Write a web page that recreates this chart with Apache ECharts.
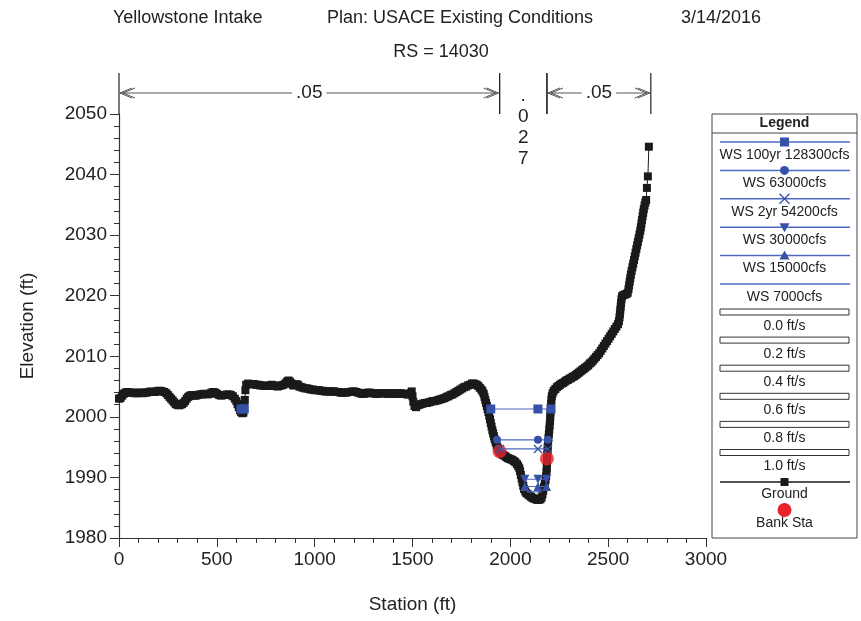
<!DOCTYPE html>
<html><head><meta charset="utf-8">
<script src="https://cdn.jsdelivr.net/npm/echarts@6/dist/echarts.min.js"></script>
<style>html,body{margin:0;padding:0;background:#fff}#c{width:861px;height:621px}</style>
</head><body><div id="c"></div>
<script>
// ---------- data ----------
const titleParts = ['Yellowstone Intake', 'Plan: USACE Existing Conditions', '3/14/2016'];
const subTitle = 'RS = 14030';
const xAxisName = 'Station (ft)';
const yAxisName = 'Elevation (ft)';

const groundStation = [0,8,16,24,32,42,52,62,72,82,92,102,112,122,132,142,152,162,172,182,192,202,212,222,232,242,250,258,266,274,282,290,298,306,314,322,330,338,346,354,362,372,382,392,402,412,422,432,442,452,462,472,482,492,502,512,522,532,542,552,562,572,582,592,600,606,612,618,624,630,636,640,643,646,650,660,670,680,690,700,710,720,730,740,750,760,770,780,790,800,810,820,830,840,850,858,866,874,882,890,898,906,914,922,932,942,952,962,972,982,992,1002,1012,1022,1032,1042,1052,1062,1072,1082,1092,1102,1112,1122,1132,1142,1152,1162,1172,1182,1192,1202,1212,1222,1232,1242,1252,1262,1272,1282,1292,1302,1312,1322,1332,1342,1352,1362,1372,1382,1392,1402,1412,1422,1432,1442,1452,1462,1472,1482,1490,1496,1500,1504,1510,1518,1526,1534,1544,1554,1564,1574,1584,1594,1604,1614,1624,1634,1644,1654,1664,1674,1684,1694,1704,1714,1724,1734,1744,1754,1764,1774,1784,1794,1804,1812,1820,1828,1836,1844,1852,1858,1864,1868,1872,1876,1880,1884,1888,1892,1896,1900,1904,1908,1912,1916,1920,1925,1930,1936,1942,1948,1955,1962,1970,1978,1986,1994,2002,2010,2018,2026,2034,2040,2046,2050,2054,2058,2062,2066,2070,2076,2082,2090,2098,2106,2114,2122,2130,2138,2146,2154,2160,2164,2168,2172,2176,2180,2183,2185,2186,2187,2188,2189,2190,2191,2193,2195,2197,2199,2201,2203,2204,2205,2207,2208,2210,2212,2216,2222,2230,2238,2246,2254,2262,2270,2278,2286,2294,2302,2310,2318,2326,2334,2342,2350,2358,2366,2374,2382,2390,2398,2406,2414,2422,2430,2438,2446,2454,2462,2470,2478,2486,2494,2502,2510,2518,2526,2534,2542,2550,2555,2558,2560,2562,2564,2566,2568,2571,2578,2586,2594,2600,2604,2607,2610,2613,2616,2620,2624,2628,2632,2636,2640,2644,2648,2652,2656,2660,2664,2667,2670,2673,2676,2679,2682,2686,2690,2694,2698,2703,2708,2718];
const groundElev = [2003.0,2003.1,2003.5,2003.8,2004.0,2004.1,2004.0,2004.0,2004.0,2003.9,2003.9,2004.0,2004.0,2003.9,2004.0,2004.0,2004.1,2004.2,2004.1,2004.1,2004.2,2004.3,2004.3,2004.2,2004.1,2003.9,2003.6,2003.3,2003.0,2002.7,2002.4,2002.1,2002.0,2001.9,2002.0,2002.1,2002.3,2002.6,2003.0,2003.3,2003.5,2003.6,2003.5,2003.5,2003.6,2003.7,2003.7,2003.8,2003.8,2003.7,2003.8,2004.0,2004.1,2004.0,2003.8,2003.6,2003.5,2003.6,2003.6,2003.7,2003.7,2003.6,2003.4,2003.0,2002.6,2002.1,2001.6,2001.1,2000.8,2000.6,2000.7,2001.5,2002.8,2004.4,2005.3,2005.5,2005.4,2005.4,2005.4,2005.3,2005.3,2005.2,2005.2,2005.1,2005.1,2005.1,2005.2,2005.3,2005.2,2005.1,2005.0,2005.1,2005.2,2005.3,2005.5,2005.8,2006.0,2005.8,2005.5,2005.2,2005.2,2005.4,2005.3,2005.0,2004.9,2004.8,2004.7,2004.7,2004.6,2004.5,2004.5,2004.4,2004.4,2004.4,2004.3,2004.3,2004.2,2004.2,2004.2,2004.2,2004.2,2004.2,2004.1,2004.1,2004.0,2004.0,2004.0,2004.0,2004.1,2004.1,2004.2,2004.2,2004.1,2004.0,2003.9,2003.8,2003.8,2003.9,2004.0,2004.0,2003.9,2003.9,2003.8,2003.8,2003.9,2003.9,2003.9,2003.9,2003.8,2003.8,2003.9,2003.9,2003.8,2003.8,2003.9,2003.9,2003.8,2003.8,2003.7,2003.7,2003.9,2004.2,2003.4,2002.5,2001.8,2001.6,2001.9,2002.0,2002.1,2002.2,2002.3,2002.3,2002.4,2002.5,2002.6,2002.6,2002.7,2002.8,2002.9,2003.0,2003.1,2003.3,2003.4,2003.6,2003.7,2003.9,2004.1,2004.3,2004.5,2004.7,2004.9,2005.0,2005.2,2005.3,2005.5,2005.5,2005.4,2005.3,2005.1,2004.8,2004.5,2004.2,2003.8,2003.3,2002.8,2002.3,2001.8,2001.3,2000.8,2000.2,1999.6,1999.0,1998.4,1997.8,1997.3,1996.8,1996.3,1995.8,1995.3,1994.9,1994.5,1994.2,1993.9,1993.7,1993.6,1993.4,1993.2,1993.1,1993.0,1992.9,1992.7,1992.5,1992.2,1991.9,1991.5,1991.0,1990.4,1989.8,1989.2,1988.6,1988.1,1987.7,1987.4,1987.2,1987.0,1986.8,1986.6,1986.5,1986.4,1986.3,1986.3,1986.4,1986.7,1987.2,1987.8,1988.4,1989.0,1989.6,1990.2,1990.9,1991.6,1992.3,1993.0,1993.7,1994.4,1995.1,1995.8,1996.5,1997.2,1997.9,1998.6,1999.3,2000.0,2000.7,2001.4,2002.1,2002.8,2003.4,2003.9,2004.3,2004.6,2004.9,2005.1,2005.3,2005.5,2005.6,2005.8,2006.0,2006.1,2006.3,2006.4,2006.6,2006.7,2006.9,2007.1,2007.3,2007.5,2007.7,2007.9,2008.1,2008.3,2008.5,2008.8,2009.0,2009.3,2009.6,2009.9,2010.2,2010.5,2010.9,2011.3,2011.7,2012.1,2012.5,2012.9,2013.3,2013.7,2014.1,2014.5,2014.9,2015.3,2015.8,2016.4,2017.0,2017.6,2018.2,2018.8,2019.4,2019.9,2020.1,2020.2,2020.3,2020.5,2021.1,2021.7,2022.3,2022.9,2023.5,2024.1,2024.7,2025.3,2025.9,2026.5,2027.1,2027.7,2028.3,2028.9,2029.5,2030.1,2030.7,2031.3,2031.9,2032.5,2033.1,2033.7,2034.3,2034.9,2035.4,2035.8,2037.8,2039.7,2044.6];

const bankStation = [1945, 2187];
const bankElev = [1994.3, 1993.1];

const wsNames = ['WS 100yr 128300cfs', 'WS 63000cfs', 'WS 2yr 54200cfs', 'WS 30000cfs', 'WS 15000cfs', 'WS 7000cfs'];
const wsElev = [2001.3, 1996.2, 1994.7, 1989.7, 1988.5, 1987.6];
const wsStations = [[1900, 2141, 2208], [1932, 2141, 2192], [1947, 2141, 2192], [2074, 2141, 2185], [2074, 2141, 2185], [2085, 2160]];
const wsPoolStations = [[624, 640], [], [], [], [], []];

const nBounds = [0, 1945, 2187, 2718];
const nValues = ['.05', '.027', '.05'];

const velocityLabels = ['0.0 ft/s', '0.2 ft/s', '0.4 ft/s', '0.6 ft/s', '0.8 ft/s', '1.0 ft/s'];
const groundLabel = 'Ground';
const bankLabel = 'Bank Sta';

// ---------- styles ----------
const FONT = 'Liberation Sans, Arial, sans-serif';
const BLUE = '#3652a8';
const BLUE_LINE = '#4f69c0';
const RED = '#e8232b';
const BLACK = '#1a1a1a';
const wsSymbols = ['rect', 'circle', 'path://M0,0L10,10M10,0L0,10', 'triangle', 'triangle', 'none'];
const wsRotate = [0, 0, 0, 180, 0, 0];
const wsSize = [9, 8, 8, 9, 9, 0];

const chart = echarts.init(document.getElementById('c'), null, {renderer: 'canvas'});

const series = [];
series.push({
  name: groundLabel, type: 'line', z: 2,
  data: groundStation.map((s, i) => [s, groundElev[i]]),
  symbol: 'rect', symbolSize: 8, showAllSymbol: true,
  itemStyle: {color: BLACK},
  lineStyle: {color: BLACK, width: 1},
  animation: false
});
series.push({
  name: bankLabel, type: 'scatter', z: 3,
  data: bankStation.map((s, i) => [s, bankElev[i]]),
  symbol: 'circle', symbolSize: 14,
  itemStyle: {color: RED},
  animation: false
});
wsNames.forEach((n, i) => {
  const isCross = i === 2;
  const mk = (arr) => ({
    name: n, type: 'line', z: 4,
    data: arr.map(s => [s, wsElev[i]]),
    symbol: wsSymbols[i], symbolSize: wsSize[i], symbolRotate: wsRotate[i], showAllSymbol: true,
    itemStyle: isCross ? {color: 'rgba(0,0,0,0)', borderColor: BLUE, borderWidth: 1.3} : {color: BLUE},
    lineStyle: {color: BLUE_LINE, width: 1.2},
    animation: false
  });
  series.push(mk(wsStations[i]));
  if (wsPoolStations[i].length) series.push(mk(wsPoolStations[i]));
});

// Manning's n annotation, positioned through the axes' scales
series.push({
  type: 'custom', z: 5, clip: false, animation: false,
  data: nValues.map((v, i) => [nBounds[i], nBounds[i + 1], i]),
  renderItem: function (params, api) {
    const yTop = 2050;
    const a = api.coord([api.value(0), yTop]);
    const b = api.coord([api.value(1), yTop]);
    const label = nValues[api.value(2)];
    const top = a[1] - 41, bot = a[1];
    const children = [];
    const ls = {stroke: '#222', lineWidth: 1.2};
    children.push({type: 'line', shape: {x1: a[0], y1: top, x2: a[0], y2: bot}, style: ls});
    children.push({type: 'line', shape: {x1: b[0], y1: top, x2: b[0], y2: bot}, style: ls});
    const w = b[0] - a[0];
    if (w > 60) {
      const yy = a[1] - 21;
      const as = {stroke: '#555', lineWidth: 1, fill: null};
      children.push({type: 'line', shape: {x1: a[0] + 1, y1: yy, x2: b[0] - 1, y2: yy}, style: as});
      children.push({type: 'polyline', shape: {points: [[a[0] + 13, yy - 5], [a[0] + 1, yy], [a[0] + 13, yy + 5]]}, style: as});
      children.push({type: 'polyline', shape: {points: [[a[0] + 16, yy - 5], [a[0] + 4, yy], [a[0] + 16, yy + 5]]}, style: as});
      children.push({type: 'polyline', shape: {points: [[b[0] - 13, yy - 5], [b[0] - 1, yy], [b[0] - 13, yy + 5]]}, style: as});
      children.push({type: 'polyline', shape: {points: [[b[0] - 16, yy - 5], [b[0] - 4, yy], [b[0] - 16, yy + 5]]}, style: as});
      children.push({type: 'text', x: (a[0] + b[0]) / 2, y: yy, style: {text: label, font: '19px ' + FONT, fill: '#222', align: 'center', verticalAlign: 'middle', backgroundColor: '#fff', padding: [0, 4]}});
    } else {
      children.push({type: 'text', x: (a[0] + b[0]) / 2, y: top + 12, style: {text: label.split('').join('\n'), font: '19px ' + FONT, fill: '#222', align: 'center', verticalAlign: 'top', lineHeight: 21}});
    }
    return {type: 'group', children: children};
  }
});

// ---------- legend (graphic) ----------
const g = [];
const LX = 712, LW = 145, LT = 114, LB = 538, CX = LX + LW / 2;
g.push({type: 'rect', shape: {x: LX, y: LT, width: LW, height: LB - LT}, style: {fill: '#fff', stroke: '#444', lineWidth: 1}, z: 10});
g.push({type: 'text', x: CX, y: 123, style: {text: 'Legend', font: 'bold 14px ' + FONT, fill: '#222', align: 'center', verticalAlign: 'middle'}, z: 11});
g.push({type: 'line', shape: {x1: LX, y1: 133, x2: LX + LW, y2: 133}, style: {stroke: '#444', lineWidth: 1}, z: 11});
wsNames.forEach((n, i) => {
  const y = 142 + i * 28.4;
  g.push({type: 'line', shape: {x1: 720, y1: y, x2: 850, y2: y}, style: {stroke: BLUE_LINE, lineWidth: 1.5}, z: 11});
  if (wsSymbols[i] !== 'none') {
    const path = wsSymbols[i];
    let el;
    if (path === 'rect') el = {type: 'rect', shape: {x: CX - 4.5, y: y - 4.5, width: 9, height: 9}, style: {fill: BLUE}};
    else if (path === 'circle') el = {type: 'circle', shape: {cx: CX, cy: y, r: 4.5}, style: {fill: BLUE}};
    else if (i === 2) el = {type: 'polyline', shape: {points: [[CX - 5, y - 5], [CX, y], [CX + 5, y - 5]]}, style: {stroke: BLUE, fill: null, lineWidth: 1.3}};
    else if (i === 3) el = {type: 'polygon', shape: {points: [[CX - 5, y - 4], [CX + 5, y - 4], [CX, y + 5]]}, style: {fill: BLUE}};
    else el = {type: 'polygon', shape: {points: [[CX - 5, y + 4], [CX + 5, y + 4], [CX, y - 5]]}, style: {fill: BLUE}};
    el.z = 12; g.push(el);
    if (i === 2) g.push({type: 'polyline', shape: {points: [[CX - 5, y + 5], [CX, y], [CX + 5, y + 5]]}, style: {stroke: BLUE, fill: null, lineWidth: 1.3}, z: 12});
  }
  g.push({type: 'text', x: CX, y: y + 13, style: {text: n, font: '14px ' + FONT, fill: '#222', align: 'center', verticalAlign: 'middle'}, z: 11});
});
velocityLabels.forEach((t, j) => {
  const y = 309 + j * 28.1;
  g.push({type: 'rect', shape: {x: 720, y: y, width: 129, height: 6}, style: {fill: '#fff', stroke: '#333', lineWidth: 1}, z: 11});
  g.push({type: 'text', x: CX, y: y + 17, style: {text: t, font: '14px ' + FONT, fill: '#222', align: 'center', verticalAlign: 'middle'}, z: 11});
});
g.push({type: 'line', shape: {x1: 720, y1: 482, x2: 850, y2: 482}, style: {stroke: BLACK, lineWidth: 1.3}, z: 11});
g.push({type: 'rect', shape: {x: CX - 4, y: 478, width: 8, height: 8}, style: {fill: BLACK}, z: 12});
g.push({type: 'text', x: CX, y: 494, style: {text: groundLabel, font: '14px ' + FONT, fill: '#222', align: 'center', verticalAlign: 'middle'}, z: 11});
g.push({type: 'circle', shape: {cx: CX, cy: 510, r: 7}, style: {fill: RED}, z: 12});
g.push({type: 'text', x: CX, y: 523, style: {text: bankLabel, font: '14px ' + FONT, fill: '#222', align: 'center', verticalAlign: 'middle'}, z: 11});

// titles
g.push({type: 'text', x: 113, y: 18, style: {text: titleParts[0], font: '18px ' + FONT, fill: '#222', verticalAlign: 'middle'}});
g.push({type: 'text', x: 327, y: 18, style: {text: titleParts[1], font: '18px ' + FONT, fill: '#222', verticalAlign: 'middle'}});
g.push({type: 'text', x: 681, y: 18, style: {text: titleParts[2], font: '18px ' + FONT, fill: '#222', verticalAlign: 'middle'}});
g.push({type: 'text', x: 441, y: 52, style: {text: subTitle, font: '18px ' + FONT, fill: '#222', align: 'center', verticalAlign: 'middle'}});

const plainNum = v => String(v);
const axisCommon = {
  axisLine: {show: true, lineStyle: {color: '#333', width: 1.2}},
  axisTick: {show: true, length: 9, lineStyle: {color: '#333'}},
  minorTick: {show: true, splitNumber: 5, length: 5, lineStyle: {color: '#333'}},
  splitLine: {show: false},
  axisLabel: {color: '#222', fontSize: 19, fontFamily: FONT, formatter: plainNum, margin: 12},
  nameTextStyle: {color: '#222', fontSize: 19, fontFamily: FONT}
};

chart.setOption({
  animation: false,
  backgroundColor: '#fff',
  grid: {left: 119, right: 155, top: 114, bottom: 83, containLabel: false, outerBoundsMode: 'none'},
  xAxis: Object.assign({}, axisCommon, {
    type: 'value', min: 0, max: 3000, interval: 500,
    name: xAxisName, nameLocation: 'middle', nameGap: 57
  }),
  yAxis: Object.assign({}, axisCommon, {
    type: 'value', min: 1980, max: 2050, interval: 10,
    name: yAxisName, nameLocation: 'middle', nameGap: 82
  }),
  series: series,
  graphic: {elements: g}
});
</script></body></html>
